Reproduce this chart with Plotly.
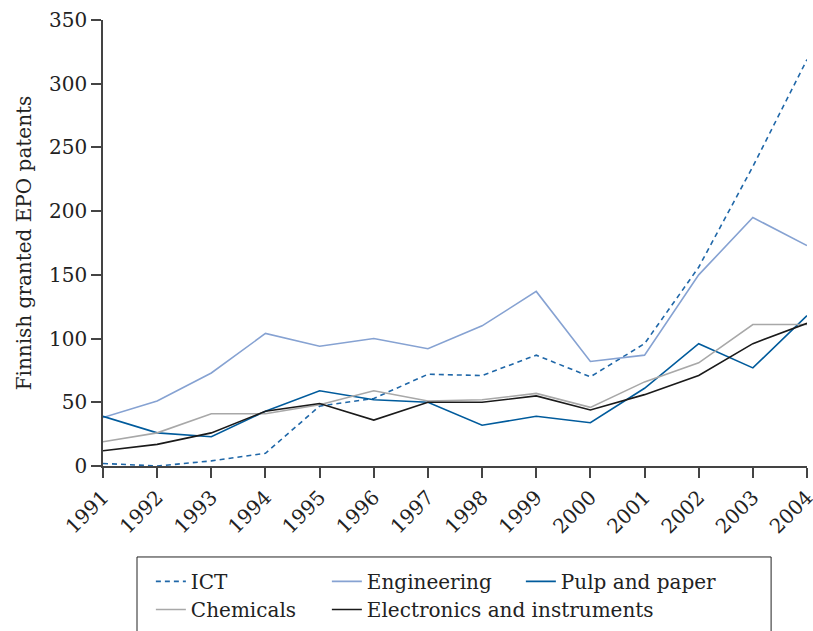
import plotly.graph_objects as go

years = list(range(1991, 2005))

ict = [2, 0, 4, 10, 47, 53, 72, 71, 87, 70, 96, 156, 235, 319]
engineering = [38, 51, 73, 104, 94, 100, 92, 110, 137, 82, 87, 150, 195, 173]
pulp_paper = [39, 26, 23, 43, 59, 52, 50, 32, 39, 34, 61, 96, 77, 118]
chemicals = [19, 26, 41, 41, 48, 59, 51, 52, 57, 46, 66, 81, 111, 111]
electronics = [12, 17, 26, 43, 49, 36, 50, 50, 55, 44, 56, 71, 96, 112]

serif = "DejaVu Serif"
fnt = dict(family=serif, size=20, color="#222")

# name, values, colour, dash, legend row, legend entry width
series = [
    ("ICT", ict, "#1f67a8", "5px,4px", "legend", 131),
    ("Engineering", engineering, "#86a2d2", "solid", "legend", 149),
    ("Pulp and paper", pulp_paper, "#005b9c", "solid", "legend", 0),
    ("Chemicals", chemicals, "#a8a8a8", "solid", "legend2", 131),
    ("Electronics and instruments", electronics, "#1a1a1a", "solid", "legend2", 0),
]

fig = go.Figure()
for name, vals, col, dash, leg, lw in series:
    fig.add_trace(go.Scatter(x=years, y=vals, mode="lines", name=name,
                             legend=leg, legendwidth=lw if lw else None,
                             line=dict(color=col, width=1.6, dash=dash)))

leg_common = dict(orientation="h", x=0.068, xanchor="left", yanchor="top",
                  borderwidth=0, bgcolor="rgba(0,0,0,0)", font=fnt,
                  traceorder="normal")

fig.update_layout(
    width=813, height=631,
    margin=dict(l=103, r=6, t=20, b=165, autoexpand=False),
    plot_bgcolor="white", paper_bgcolor="white",
    font=fnt,
    legend=dict(y=-0.215, **leg_common),
    legend2=dict(y=-0.278, **leg_common),
    showlegend=True,
    shapes=[dict(type="rect", xref="paper", yref="paper",
                 x0=0.0483, x1=0.949, y0=-0.204, y1=-0.42,
                 line=dict(color="#222", width=1), fillcolor="rgba(0,0,0,0)")],
)
fig.update_xaxes(
    range=[1991, 2004], tickmode="array", tickvals=years,
    ticktext=[str(y) for y in years], tickfont=fnt,
    tickangle=-45, ticklabeloverflow="allow",
    showline=True, linecolor="#444", linewidth=1.5,
    ticks="outside", ticklen=10, tickcolor="#444", tickwidth=1.5,
    showgrid=False, zeroline=False, automargin=False,
)
fig.update_yaxes(
    range=[0, 350], tickmode="linear", tick0=0, dtick=50, tickfont=fnt,
    showline=True, linecolor="#444", linewidth=1.5,
    ticks="outside", ticklen=10, tickcolor="#444", tickwidth=1.5,
    showgrid=False, zeroline=False, automargin=False,
    title=dict(text="Finnish granted EPO patents", standoff=12, font=fnt),
)

fig.write_html("out.html", config={"displayModeBar": False},
               post_script="document.body.style.margin='0';")
